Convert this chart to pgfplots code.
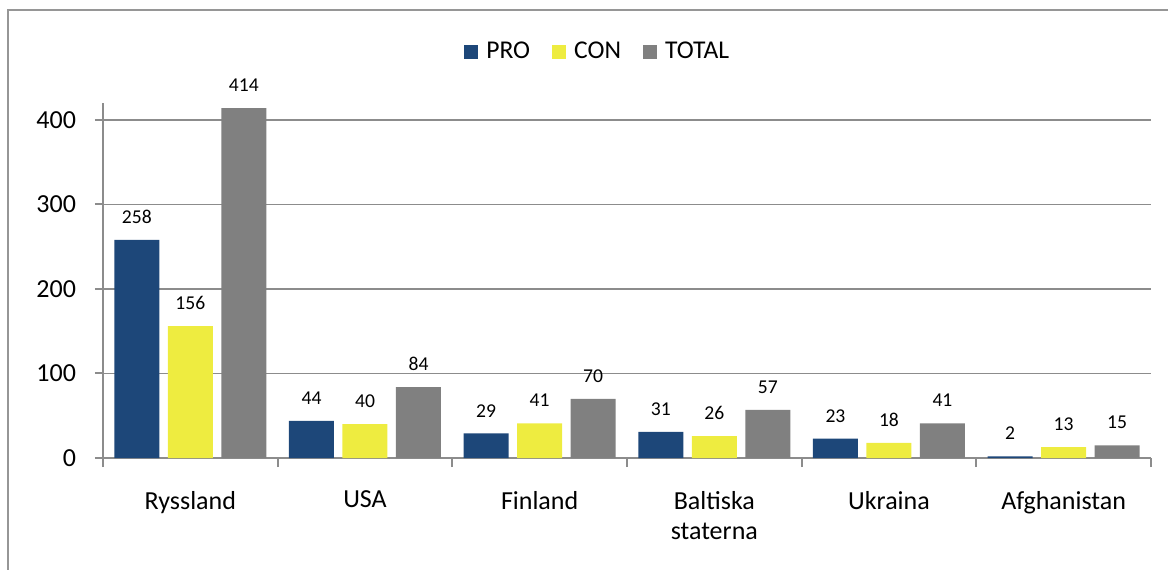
\documentclass[border=0pt]{standalone}
\usepackage{pgfplots}
\pgfplotsset{compat=1.18}
\usepackage{fontspec}
\setmainfont{Carlito}
\definecolor{pro}{RGB}{29,71,121}
\definecolor{con}{RGB}{238,236,64}
\definecolor{tot}{RGB}{128,128,128}
\definecolor{axg}{RGB}{140,140,140}
\begin{document}
\begin{tikzpicture}
\begin{axis}[name=ax, at={(0,0)}, anchor=south west,
  scale only axis, width=524pt, height=177.5pt,
  ybar=4.25pt, bar width=22.5pt,
  xmin=-0.5, xmax=5.5, ymin=0, ymax=420,
  xtick={0,1,2,3,4,5},
  xticklabels={Ryssland,USA,Finland,{Baltiska\\staterna},Ukraina,Afghanistan},
  minor xtick={-0.5,0.5,1.5,2.5,3.5,4.5,5.5},
  ytick={0,100,200,300,400},
  axis x line=bottom, axis y line=left,
  axis line style={axg, line width=1pt, -},
  tick align=outside,
  major x tick style={draw=none},
  minor x tick style={axg, line width=1pt},
  minor tick length=4.5pt,
  major tick length=4pt,
  y tick style={axg, line width=1pt},
  ymajorgrids, grid style={axg, line width=0.9pt},
  xticklabel style={font=\fontsize{13}{15}\selectfont, align=center, yshift=-9pt},
  yticklabel style={font=\fontsize{13}{15}\selectfont, xshift=-6pt},
  /pgf/number format/assume math mode=true,
  nodes near coords,
  every node near coord/.append style={font=\fontsize{9.8}{11}\selectfont, color=black, inner sep=0pt, anchor=south, yshift=8pt},
  legend columns=-1,
  legend style={at={(0.473,1.145)}, anchor=center, draw=none, fill=none,
    font=\fontsize{12.8}{14}\selectfont,
    /tikz/every even column/.append style={column sep=9pt}},
  legend image code/.code={\fill[#1] (0pt,-3.5pt) rectangle (7pt,3.5pt); \path (9pt,0pt);},
]
\addplot[fill=pro, draw=none] coordinates {(0,258) (1,44) (2,29) (3,31) (4,23) (5,2)};
\addplot[fill=con, draw=none] coordinates {(0,156) (1,40) (2,41) (3,26) (4,18) (5,13)};
\addplot[fill=tot, draw=none] coordinates {(0,414) (1,84) (2,70) (3,57) (4,41) (5,15)};
\legend{PRO,CON,TOTAL}
\end{axis}
\useasboundingbox (-51.5pt,-55.5pt) rectangle (532.5pt,229pt);
\draw[color={rgb,255:red,150;green,150;blue,150}, line width=1pt] (-47.5pt,-60pt) -- (-47.5pt,224pt) -- (540pt,224pt);
\end{tikzpicture}
\end{document}
